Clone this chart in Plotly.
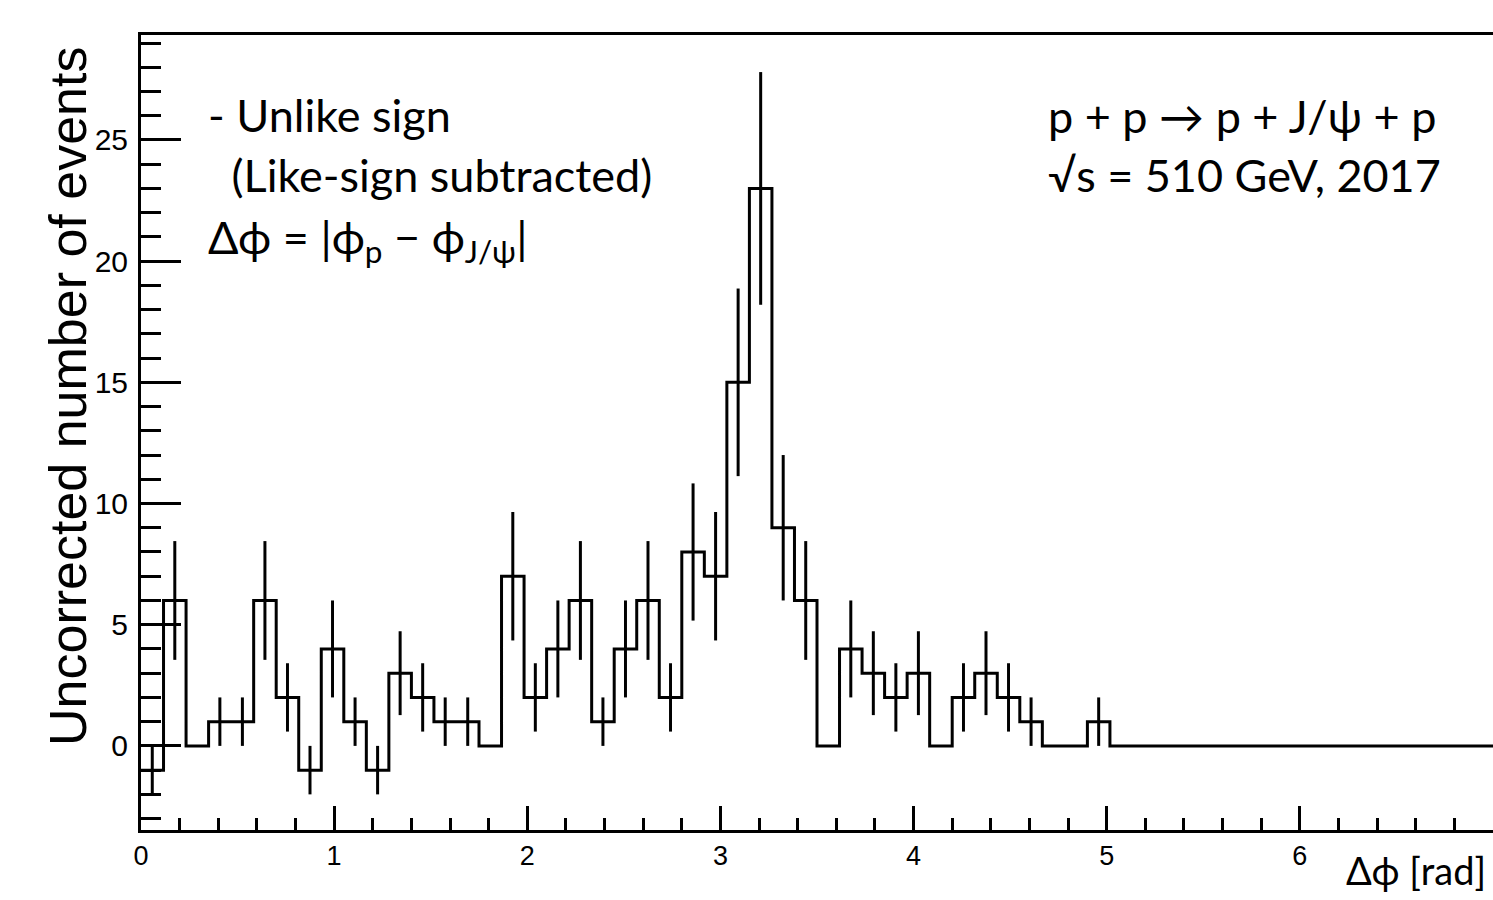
import numpy as np
import plotly.graph_objects as go

# ---- data ----
bin_low, bin_high, n_bins = 0.0, 7.0, 60
counts = [-1, 6, 0, 1, 1, 6, 2, -1, 4, 1,
          -1, 3, 2, 1, 1, 0, 7, 2, 4, 6,
          1, 4, 6, 2, 8, 7, 15, 23, 9, 6,
          0, 4, 3, 2, 3, 0, 2, 3, 2, 1,
          0, 0, 1, 0, 0, 0, 0, 0, 0, 0,
          0, 0, 0, 0, 0, 0, 0, 0, 0, 0]
errors = [1, 2.45, 0, 1, 1, 2.45, 1.41, 1, 2, 1,
          1, 1.73, 1.41, 1, 1, 0, 2.65, 1.41, 2, 2.45,
          1, 2, 2.45, 1.41, 2.83, 2.65, 3.87, 4.8, 3, 2.45,
          0, 2, 1.73, 1.41, 1.73, 0, 1.41, 1.73, 1.41, 1,
          0, 0, 1, 0, 0, 0, 0, 0, 0, 0,
          0, 0, 0, 0, 0, 0, 0, 0, 0, 0]
x_ticks = [0, 1, 2, 3, 4, 5, 6, 7]
y_ticks = [0, 5, 10, 15, 20, 25]

edges = np.linspace(bin_low, bin_high, n_bins + 1)
centers = 0.5 * (edges[:-1] + edges[1:])

W, H = 1493, 900
ML, MT, MB, MR = 141, 35, 70, 0
PW, PH = W - ML - MR, H - MT - MB

def px(xp):
    return (xp - ML) / PW

def py(yp):
    return (H - MB - yp) / PH

fig = go.Figure()
fig.add_trace(go.Scatter(
    x=edges, y=counts + [counts[-1]], mode="lines", line_shape="hv",
    line=dict(color="black", width=3), hoverinfo="skip", showlegend=False))
fig.add_trace(go.Scatter(
    x=centers, y=counts, mode="markers",
    marker=dict(size=1, color="rgba(0,0,0,0)"),
    error_y=dict(type="data", array=errors, visible=True, width=0,
                 thickness=3, color="black"),
    hoverinfo="skip", showlegend=False))

fig.update_xaxes(
    range=[0, 7], tickvals=x_ticks, ticktext=[str(v) for v in x_ticks],
    ticks="inside", ticklen=24, tickwidth=2.5, tickcolor="black",
    minor=dict(ticks="inside", ticklen=12, dtick=0.2, tick0=0, tickwidth=2.5,
               tickcolor="black", showgrid=False),
    showline=True, linecolor="black", linewidth=3, mirror=True,
    showgrid=False, zeroline=False,
    tickfont=dict(family="Liberation Sans, Arial, sans-serif", size=27, color="black"),
    ticklabelstandoff=0)
fig.update_yaxes(
    range=[-3.47, 29.33], tickvals=y_ticks, ticktext=[str(v) for v in y_ticks],
    ticks="inside", ticklen=40, tickwidth=2.5, tickcolor="black",
    minor=dict(ticks="inside", ticklen=20, dtick=1, tick0=0, tickwidth=2.5,
               tickcolor="black", showgrid=False),
    showline=True, linecolor="black", linewidth=3, mirror=False,
    showgrid=False, zeroline=False,
    tickfont=dict(family="Liberation Sans, Arial, sans-serif", size=30, color="black"),
    ticklabelstandoff=4)

txt_font = dict(family="Lato, Open Sans, sans-serif", size=45, color="black")
ann = [
    dict(text="- Unlike sign", x=px(206), y=py(115)),
    dict(text=" (Like-sign subtracted)", x=px(218), y=py(175)),
    dict(text="Δϕ = |ϕ<sub>p</sub> − ϕ<sub>J/ψ</sub>|", x=px(206), y=py(240)),
    dict(text="p + p → p + J/ψ + p", x=px(1046), y=py(116)),
    dict(text="√s = 510 GeV, 2017", x=px(1046), y=py(175)),
]
for a in ann:
    fig.add_annotation(xref="paper", yref="paper", xanchor="left", yanchor="middle",
                       showarrow=False, font=txt_font, **a)

fig.add_annotation(text="Δϕ [rad]", xref="paper", yref="paper", x=px(1488), y=py(870),
                   xanchor="right", yanchor="middle", showarrow=False,
                   font=dict(family="Lato, Open Sans, sans-serif", size=38, color="black"))
fig.add_annotation(text="Uncorrected number of events", xref="paper", yref="paper",
                   x=px(68), y=py(397), xanchor="center", yanchor="middle",
                   textangle=-90, showarrow=False,
                   font=dict(family="Liberation Sans, Arial, sans-serif", size=52, color="black"))

fig.update_layout(width=W, height=H, margin=dict(l=ML, r=MR, t=MT, b=MB),
                  paper_bgcolor="white", plot_bgcolor="white", showlegend=False)

fig.write_html("out.html", config={"displayModeBar": False},
               post_script="document.body.style.margin='0';document.body.style.overflow='hidden';")
